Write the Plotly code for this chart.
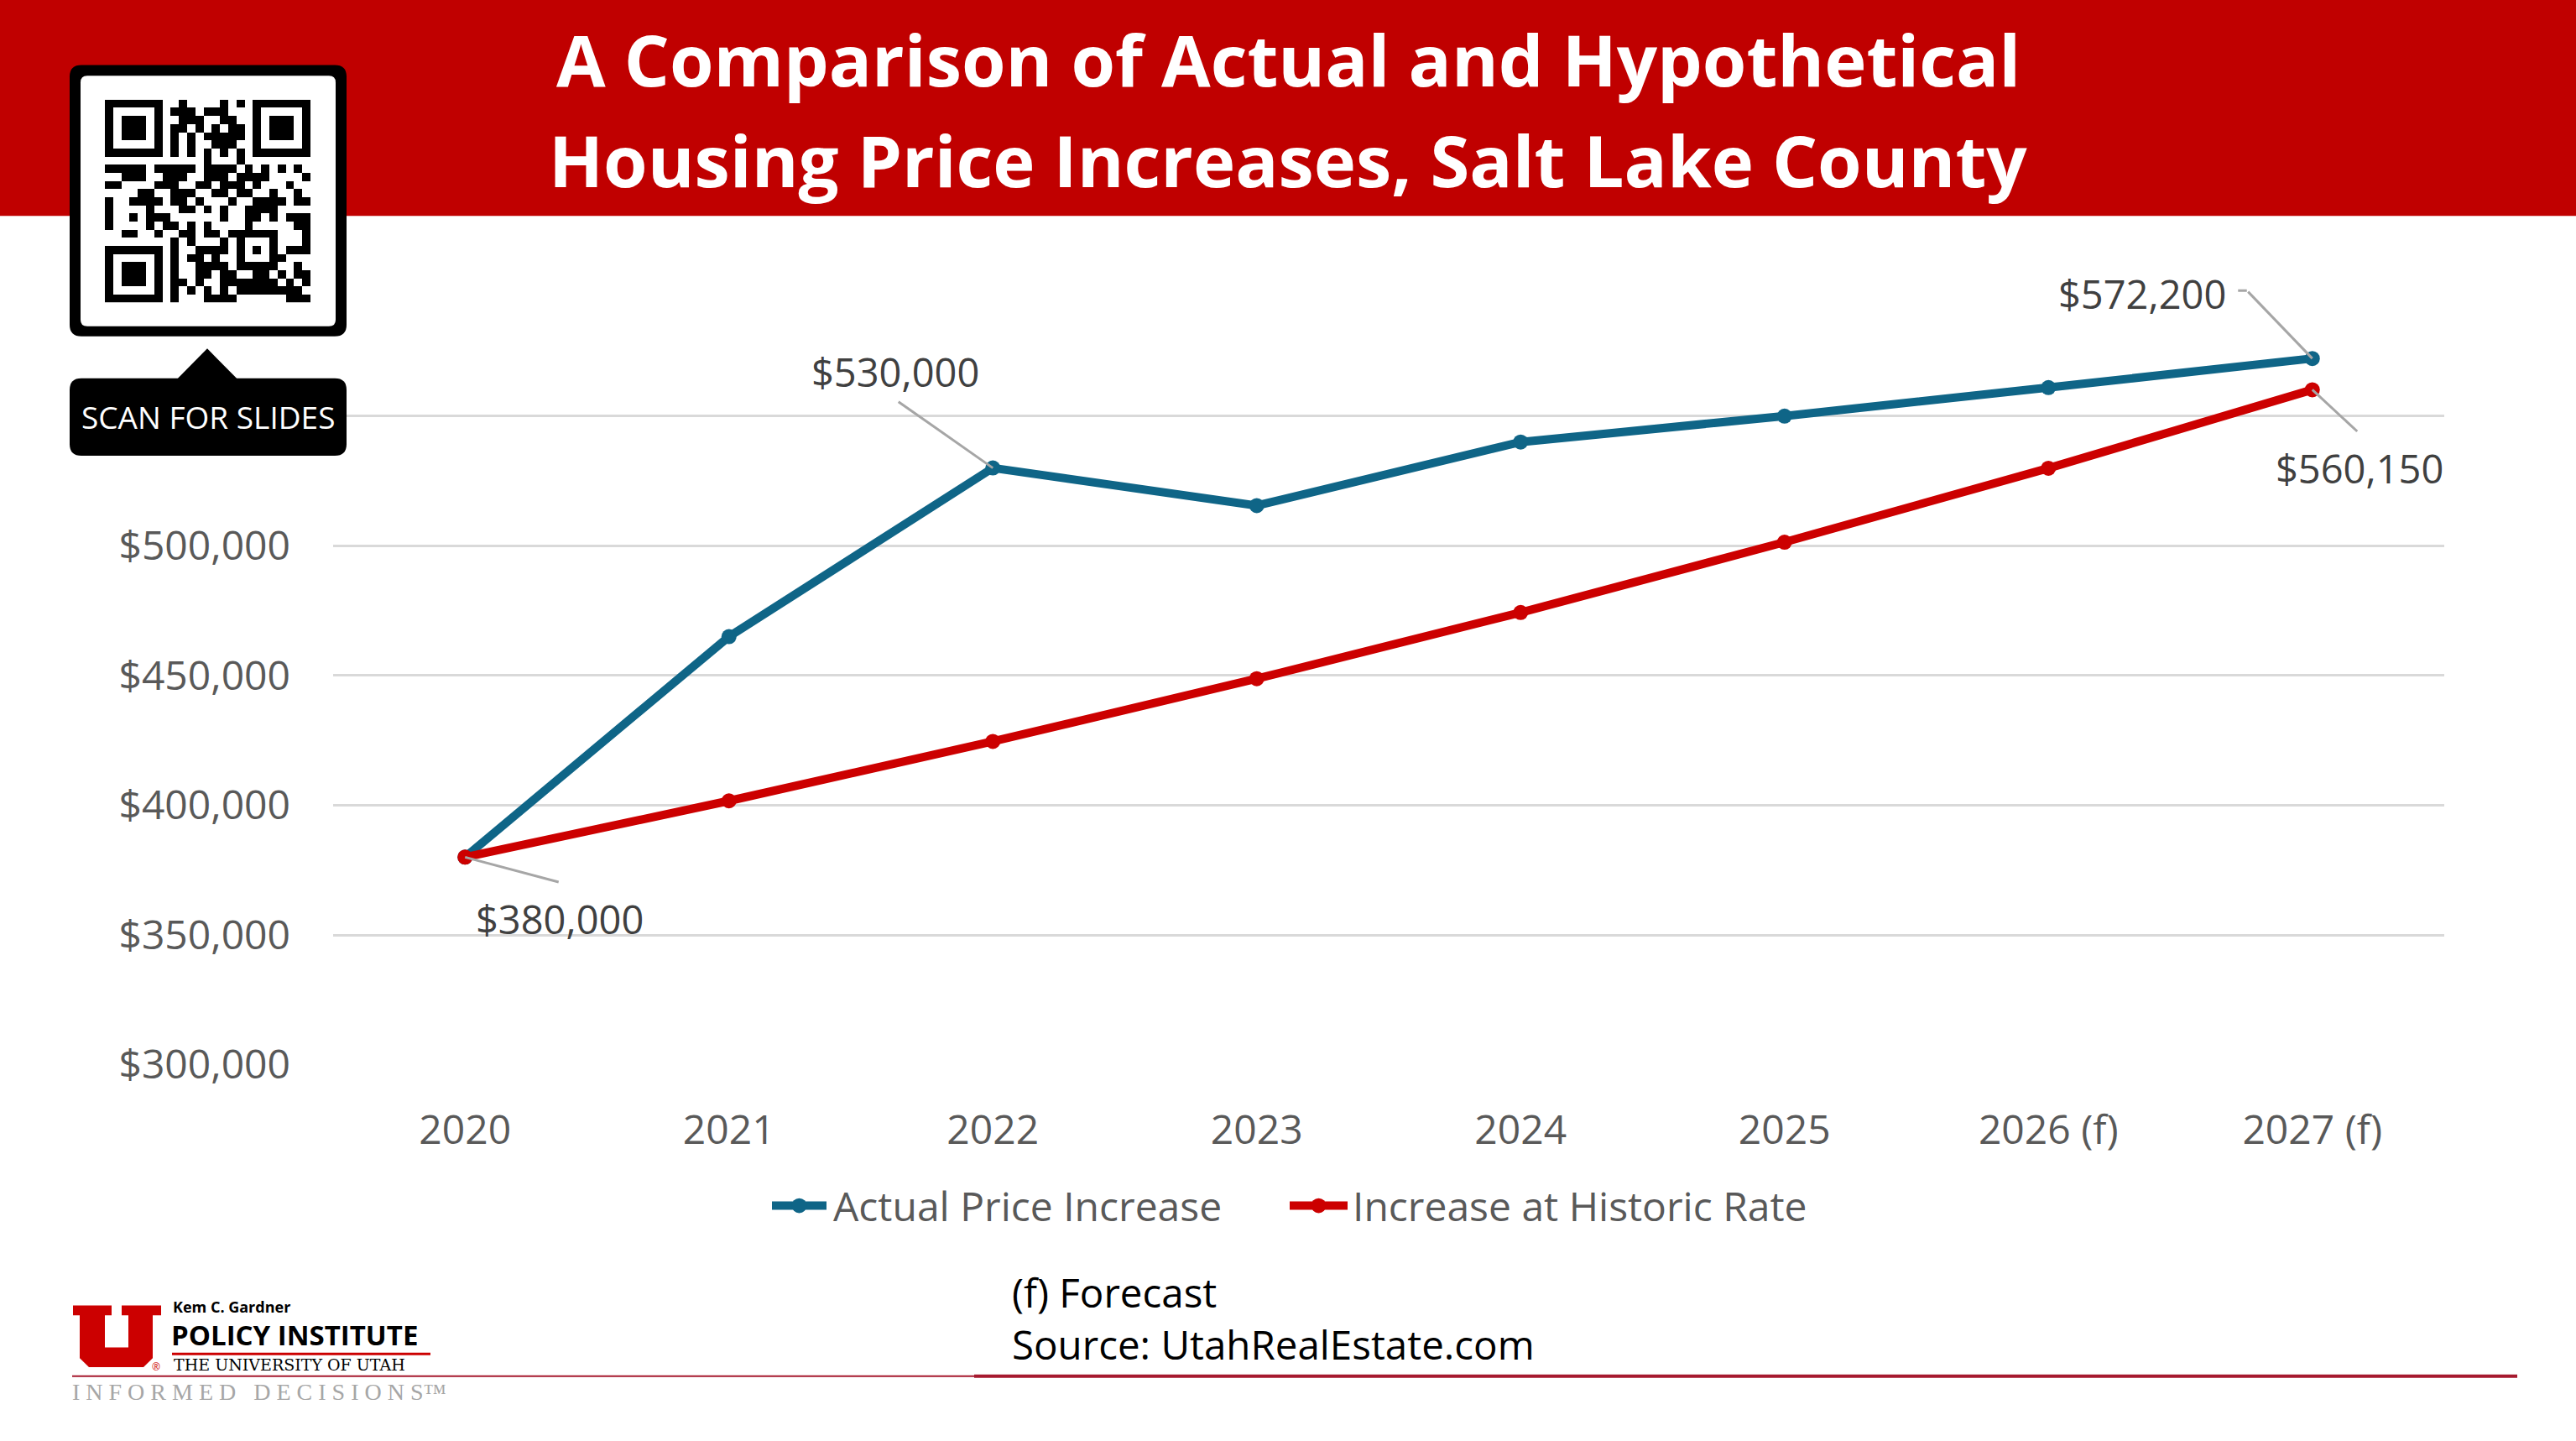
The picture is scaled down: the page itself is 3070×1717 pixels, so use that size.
import plotly.graph_objects as go

W, H = 3070, 1717

YEARS = ["2020", "2021", "2022", "2023", "2024", "2025", "2026 (f)", "2027 (f)"]
ACTUAL = [380000, 465000, 530000, 515500, 540000, 550000, 561000, 572200]
HISTORIC = [380000, 401700, 424600, 448800, 474300, 501400, 529900, 560150]
SERIES_NAMES = ["Actual Price Increase", "Increase at Historic Rate"]
Y_TICKS = [300000, 350000, 400000, 450000, 500000, 550000, 600000]
Y_TICK_LABELS = ["$300,000", "$350,000", "$400,000", "$450,000", "$500,000", "", ""]

TITLE_LINES = ["A Comparison of Actual and Hypothetical", "Housing Price Increases, Salt Lake County"]
FOOT_LINES = ["(f) Forecast", "Source: UtahRealEstate.com"]

QR_ROWS = [
    "1111111" + "0" + "010000101" + "0" + "1111111",
    "1000001" + "0" + "111011100" + "0" + "1000001",
    "1011101" + "0" + "011100110" + "0" + "1011101",
    "1011101" + "0" + "110101011" + "0" + "1011101",
    "1011101" + "0" + "101011111" + "0" + "1011101",
    "1000001" + "0" + "101001110" + "0" + "1000001",
    "1111111" + "0" + "101010101" + "0" + "1111111",
    "00000000" + "000010001" + "00000000",
    "1111101111101111010101010",
    "0011100111001110111100001",
    "1100001110011011101000100",
    "0000110011100110110010010",
    "1001111011010001001111011",
    "1000010001101010011110000",
    "1001011100000010011010111",
    "1000010110101000010000011",
    "0011001001101101111110001",
    "00000000" + "10100010100010001",
    "1111111" + "0" + "10011110101010111",
    "1000001" + "0" + "10110100100011000",
    "1011101" + "0" + "10011110111110010",
    "1011101" + "0" + "10011011001101011",
    "1011101" + "0" + "11010011111110101",
    "1000001" + "0" + "10101010111111110",
    "1111111" + "0" + "10001111000000111",
]

BLUE = "#0F6587"
RED = "#CC0000"
BANNER = "#C00000"
CRIMSON = "#A6192E"
GRID = "#D9D9D9"
TICK = "#595959"
LABEL = "#404040"
FONT = "Open Sans"


def px(x):
    return x / W


def py(y):
    return 1 - y / H


def rounded_path(x0, y0, x1, y1, r):
    X0, X1 = px(x0), px(x1)
    Y0, Y1 = py(y0), py(y1)
    rx, ry = r / W, r / H
    return (f"M{X0 + rx},{Y0} L{X1 - rx},{Y0} Q{X1},{Y0} {X1},{Y0 - ry} "
            f"L{X1},{Y1 + ry} Q{X1},{Y1} {X1 - rx},{Y1} L{X0 + rx},{Y1} "
            f"Q{X0},{Y1} {X0},{Y1 + ry} L{X0},{Y0 - ry} Q{X0},{Y0} {X0 + rx},{Y0} Z")


def poly_path(pts):
    return "M" + " L".join(f"{px(a)},{py(b)}" for a, b in pts) + " Z"


fig = go.Figure()

fig.add_trace(go.Scatter(x=YEARS, y=ACTUAL, mode="lines+markers", name=SERIES_NAMES[0],
                         line=dict(color=BLUE, width=10), marker=dict(color=BLUE, size=18),
                         showlegend=False, hoverinfo="skip"))
fig.add_trace(go.Scatter(x=YEARS, y=HISTORIC, mode="lines+markers", name=SERIES_NAMES[1],
                         line=dict(color=RED, width=10), marker=dict(color=RED, size=18),
                         showlegend=False, hoverinfo="skip"))

z = [[int(c) for c in row] for row in QR_ROWS]
fig.add_trace(go.Heatmap(z=z, xaxis="x2", yaxis="y2", colorscale=[[0, "white"], [1, "black"]],
                         showscale=False, hoverinfo="skip", zmin=0, zmax=1))

shapes = []
# banner
shapes.append(dict(type="rect", xref="paper", yref="paper", x0=0, x1=1, y0=py(262), y1=1,
                   fillcolor=BANNER, line_width=0, layer="below"))
# QR frame (below the QR heatmap)
shapes.append(dict(type="path", xref="paper", yref="paper", path=rounded_path(83, 79, 413, 408, 14),
                   fillcolor="black", line_width=0, layer="below"))
shapes.append(dict(type="path", xref="paper", yref="paper", path=rounded_path(96, 92, 400, 396, 8),
                   fillcolor="white", line_width=0, layer="below"))
# pointer + scan box
shapes.append(dict(type="path", xref="paper", yref="paper",
                   path=poly_path([(211, 460), (247, 423), (283, 460)]), fillcolor="black", line_width=0))
shapes.append(dict(type="path", xref="paper", yref="paper", path=rounded_path(83, 459, 413, 553, 14),
                   fillcolor="black", line_width=0))
# legend symbols
for (xa, xb), col in [((920, 985), BLUE), ((1537, 1606), RED)]:
    shapes.append(dict(type="line", xref="paper", yref="paper", x0=px(xa), x1=px(xb), y0=py(1463), y1=py(1463),
                       line=dict(color=col, width=10)))
    xc = (xa + xb) / 2
    shapes.append(dict(type="circle", xref="paper", yref="paper", x0=px(xc - 9), x1=px(xc + 9),
                       y0=py(1472), y1=py(1454), fillcolor=col, line_width=0))
# footer lines
shapes.append(dict(type="line", xref="paper", yref="paper", x0=px(86), x1=px(1161), y0=py(1670), y1=py(1670),
                   line=dict(color=CRIMSON, width=2)))
shapes.append(dict(type="line", xref="paper", yref="paper", x0=px(1161), x1=px(3000), y0=py(1670), y1=py(1670),
                   line=dict(color=CRIMSON, width=4)))
# logo U
U_PTS = [(87, 1584), (133, 1584), (133, 1596), (125, 1596), (125, 1635), (153, 1635), (153, 1596),
         (145, 1596), (145, 1584), (192, 1584), (192, 1596), (182, 1596), (182, 1648), (171, 1659),
         (106, 1659), (95, 1648), (95, 1596), (87, 1596)]
shapes.append(dict(type="path", xref="paper", yref="paper", path=poly_path(U_PTS), fillcolor="#CC0000", line_width=0))
shapes.append(dict(type="line", xref="paper", yref="paper", x0=px(205), x1=px(513), y0=py(1643), y1=py(1643),
                   line=dict(color="#CC0000", width=3)))

ann = []
for i, t in enumerate(TITLE_LINES):
    ann.append(dict(xref="paper", yref="paper", x=px(1535), y=py([71, 194][i]), text=t, showarrow=False,
                    font=dict(family=FONT, size=85, color="white", weight="bold"), xanchor="center", yanchor="middle"))
ann.append(dict(xref="paper", yref="paper", x=px(248), y=py(506), text="SCAN FOR SLIDES", showarrow=False,
                font=dict(family=FONT, size=37, color="white"), xanchor="center", yanchor="middle"))
# legend text
for xt, name in [(991, SERIES_NAMES[0]), (1610, SERIES_NAMES[1])]:
    ann.append(dict(xref="paper", yref="paper", x=px(xt), y=py(1463), text=name, showarrow=False,
                    font=dict(family=FONT, size=48, color=TICK), xanchor="left", yanchor="middle"))
# footer text
for i, t in enumerate(FOOT_LINES):
    ann.append(dict(xref="paper", yref="paper", x=px(1204), y=py([1568, 1631][i]), text=t, showarrow=False,
                    font=dict(family=FONT, size=47.5, color="black"), xanchor="left", yanchor="middle"))
# logo text
ann.append(dict(xref="paper", yref="paper", x=px(205), y=py(1586), text="Kem C. Gardner", showarrow=False,
                font=dict(family=FONT, size=18, color="black", weight="bold"), xanchor="left", yanchor="middle",
                borderpad=0))
ann.append(dict(xref="paper", yref="paper", x=px(203), y=py(1620), text="POLICY INSTITUTE", showarrow=False,
                font=dict(family=FONT, size=33, color="black", weight="bold"), xanchor="left", yanchor="middle",
                borderpad=0))
ann.append(dict(xref="paper", yref="paper", x=px(206), y=py(1656), text="THE UNIVERSITY OF UTAH", showarrow=False,
                font=dict(family="DejaVu Serif", size=19, color="black"), xanchor="left", yanchor="middle",
                borderpad=0))
ann.append(dict(xref="paper", yref="paper", x=px(180), y=py(1658), text="®", showarrow=False,
                font=dict(family=FONT, size=12, color="#CC0000"), xanchor="left", yanchor="middle", borderpad=0))
ann.append(dict(xref="paper", yref="paper", x=px(85), y=py(1689),
                text="I N F O R M E D   D E C I S I O N S™", showarrow=False,
                font=dict(family="Liberation Serif", size=28, color="#A6A6A6"), xanchor="left", yanchor="middle",
                borderpad=0))


def fmt(v):
    return f"${v:,.0f}"


LABELS = [  # (series values, index, text shift x, y(up), leader tail ax, ay)
    (ACTUAL, 2, -116, 115, -114, -80),
    (HISTORIC, 0, 113, -74, 113, 30),
    (ACTUAL, 7, -203, 77, -78, -81),
    (HISTORIC, 7, 56, -94, 55, 51),
]
for vals, i, sx, sy, ax, ay in LABELS:
    ann.append(dict(x=i, y=vals[i], xref="x", yref="y", text="", showarrow=True, arrowhead=0,
                    arrowwidth=3, arrowcolor="#A6A6A6", ax=ax, ay=ay, standoff=0, startstandoff=0))
    ann.append(dict(x=i, y=vals[i], xref="x", yref="y", text=fmt(vals[i]), showarrow=False,
                    xshift=sx, yshift=sy, font=dict(family=FONT, size=47, color=LABEL),
                    xanchor="center", yanchor="middle"))
# small horizontal hook for top-right label
ann.append(dict(x=7, y=ACTUAL[7], xref="x", yref="y", text="", showarrow=True, arrowhead=0,
                arrowwidth=3, arrowcolor="#A6A6A6", ax=-12, ay=0, xshift=-78, yshift=81, standoff=0))

fig.update_layout(
    width=W, height=H, margin=dict(l=0, r=0, t=0, b=0),
    paper_bgcolor="white", plot_bgcolor="white",
    shapes=shapes, annotations=ann, showlegend=False,
    xaxis=dict(domain=[px(397), px(2913)], range=[-0.5, 7.5], type="category",
               showgrid=False, zeroline=False, showline=False, ticks="",
               tickfont=dict(family=FONT, size=48, color=TICK), ticklabelstandoff=45),
    yaxis=dict(domain=[py(1292), py(347)], range=[300000, 600150], tickvals=Y_TICKS, ticktext=Y_TICK_LABELS,
               showgrid=True, gridcolor=GRID, gridwidth=3, zeroline=False, showline=False, ticks="",
               tickfont=dict(family=FONT, size=48, color=TICK), ticklabelstandoff=50),
    xaxis2=dict(domain=[px(125), px(370)], range=[-0.5, 24.5], anchor="y2", visible=False, fixedrange=True),
    yaxis2=dict(domain=[py(367), py(121)], range=[24.5, -0.5], anchor="x2", visible=False, fixedrange=True),
)

fig.write_html("out.html", config={"displayModeBar": False},
               post_script="document.body.style.margin='0';document.body.style.overflow='hidden';")
